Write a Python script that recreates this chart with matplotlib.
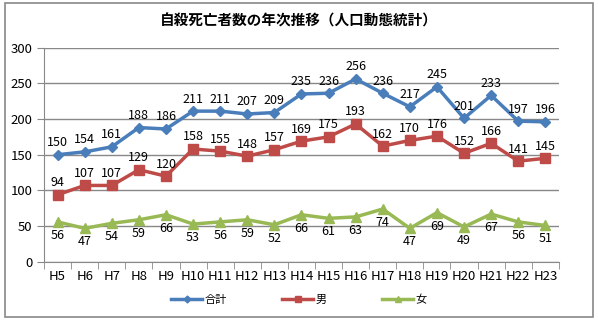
import matplotlib
matplotlib.use("Agg")
import matplotlib.pyplot as plt
from matplotlib.patches import Rectangle

plt.rcParams['font.family'] = ['Noto Sans CJK JP', 'DejaVu Sans']

years = ["H5","H6","H7","H8","H9","H10","H11","H12","H13","H14","H15","H16","H17","H18","H19","H20","H21","H22","H23"]
total = [150,154,161,188,186,211,211,207,209,235,236,256,236,217,245,201,233,197,196]
male = [94,107,107,129,120,158,155,148,157,169,175,193,162,170,176,152,166,141,145]
female = [56,47,54,59,66,53,56,59,52,66,61,63,74,47,69,49,67,56,51]
series_names = ["合計", "男", "女"]

fig = plt.figure(figsize=(5.98, 3.21), dpi=100)
fig.patches.append(Rectangle((0.008, 0.012), 0.984, 0.978, transform=fig.transFigure,
                             fill=False, edgecolor='#888888', linewidth=1.2))
ax = fig.add_axes([0.0736, 0.184, 0.861, 0.668])

x = list(range(len(years)))
c_tot, c_m, c_f = '#4A7EBB', '#BE4B48', '#98B954'
ax.plot(x, total, color=c_tot, marker='D', markersize=5, linewidth=2.5, label=series_names[0])
ax.plot(x, male, color=c_m, marker='s', markersize=7, linewidth=2.5, label=series_names[1])
ax.plot(x, female, color=c_f, marker='^', markersize=7, linewidth=2.5, label=series_names[2])

for i in x:
    ax.annotate(str(total[i]), (i, total[i]), xytext=(0, 4), textcoords='offset points',
                ha='center', va='bottom', fontsize=9)
    ax.annotate(str(male[i]), (i, male[i]), xytext=(0, 4), textcoords='offset points',
                ha='center', va='bottom', fontsize=9)
    ax.annotate(str(female[i]), (i, female[i]), xytext=(0, -5), textcoords='offset points',
                ha='center', va='top', fontsize=9)

ax.set_xlim(-0.5, len(years) - 0.5)
ax.set_ylim(0, 300)
ax.set_yticks(range(0, 301, 50))
ax.set_xticks(x)
ax.set_xticklabels(years, fontsize=9.5)
ax.tick_params(axis='y', labelsize=9.5, length=5, color='#888888')
ax.tick_params(axis='x', length=0, pad=6)
ax.set_xticks([i - 0.5 for i in range(len(years) + 1)], minor=True)
ax.tick_params(axis='x', which='minor', length=5, color='#888888')
ax.grid(axis='y', color='#888888', linewidth=1)
ax.set_axisbelow(True)
for s in ['top', 'right']:
    ax.spines[s].set_visible(False)
for s in ['left', 'bottom']:
    ax.spines[s].set_color('#888888')

fig.text(0.5, 0.935, "自殺死亡者数の年次推移（人口動態統計）", ha='center', va='center',
         fontsize=10.5, fontweight='bold')
fig.legend(loc='center', bbox_to_anchor=(0.5, 0.065), ncol=3, frameon=False, fontsize=8,
           handlelength=2.8, columnspacing=5, handletextpad=0.2, markerscale=0.7)

fig.savefig("out.png", dpi=100)
